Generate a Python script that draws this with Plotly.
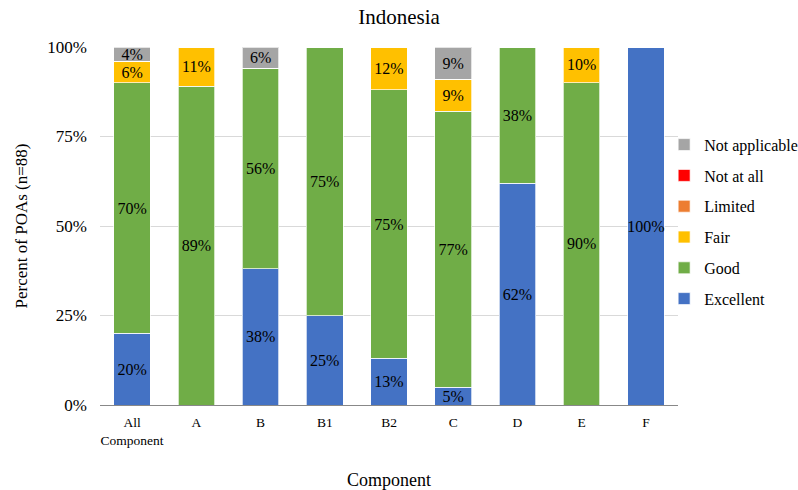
import plotly.graph_objects as go

categories = ["All<br>Component", "A", "B", "B1", "B2", "C", "D", "E", "F"]
excellent = [20, 0, 38, 25, 13, 5, 62, 0, 100]
good = [70, 89, 56, 75, 75, 77, 38, 90, 0]
fair = [6, 11, 0, 0, 12, 9, 0, 10, 0]
limited = [0, 0, 0, 0, 0, 0, 0, 0, 0]
not_at_all = [0, 0, 0, 0, 0, 0, 0, 0, 0]
not_applicable = [4, 0, 6, 0, 0, 9, 0, 0, 0]
y_ticks = [0, 25, 50, 75, 100]
y_tick_labels = ["0%", "25%", "50%", "75%", "100%"]

series = [
    ("Excellent", excellent, "#4472C4"),
    ("Good", good, "#70AD47"),
    ("Fair", fair, "#FFC000"),
    ("Limited", limited, "#ED7D31"),
    ("Not at all", not_at_all, "#FF0000"),
    ("Not applicable", not_applicable, "#A5A5A5"),
]

FONT = "Liberation Serif, Times New Roman, serif"
fig = go.Figure()
n = len(series)
for i, (name, vals, color) in enumerate(series):
    fig.add_trace(go.Bar(
        x=categories, y=vals, name=name, legendgroup=name, legendrank=n - i,
        marker=dict(color=color, line=dict(color="rgba(255,255,255,0.7)", width=1)),
        text=[f"{v}%" if v > 0 else "" for v in vals],
        textposition="inside", insidetextanchor="middle",
        constraintext="none", textangle=0,
        textfont=dict(family=FONT, size=16, color="black"),
        hoverinfo="skip",
    ))

fig.update_layout(
    barmode="stack", bargap=0.43,
    width=798, height=490,
    margin=dict(l=100, r=120, t=47, b=85, autoexpand=False),
    paper_bgcolor="white", plot_bgcolor="white",
    font=dict(family=FONT, color="black"),
    title=dict(text="Indonesia", x=0.5, xref="container", y=0.966, yanchor="middle",
               font=dict(family=FONT, size=21, color="black")),
    legend=dict(x=0.976, xanchor="left", y=0.512, yanchor="middle",
                traceorder="grouped", tracegroupgap=7,
                font=dict(family=FONT, size=16, color="black"),
                itemwidth=30, bgcolor="rgba(0,0,0,0)"),
    showlegend=True,
)
fig.update_xaxes(
    showline=True, linecolor="#888888", linewidth=1,
    tickfont=dict(family=FONT, size=13.5, color="black"),
    ticklabelstandoff=5,
    title=dict(text="Component", font=dict(family=FONT, size=18, color="black"), standoff=30),
    showgrid=False,
)
fig.update_yaxes(
    range=[0, 100], tickmode="array", tickvals=y_ticks, ticktext=y_tick_labels,
    showgrid=True, gridcolor="#d9d9d9", gridwidth=1, zeroline=False,
    tickfont=dict(family=FONT, size=17, color="black"),
    ticklabelstandoff=12,
    title=dict(text="Percent of POAs (n=88)", font=dict(family=FONT, size=17, color="black"), standoff=15),
)

fig.write_html("out.html")
